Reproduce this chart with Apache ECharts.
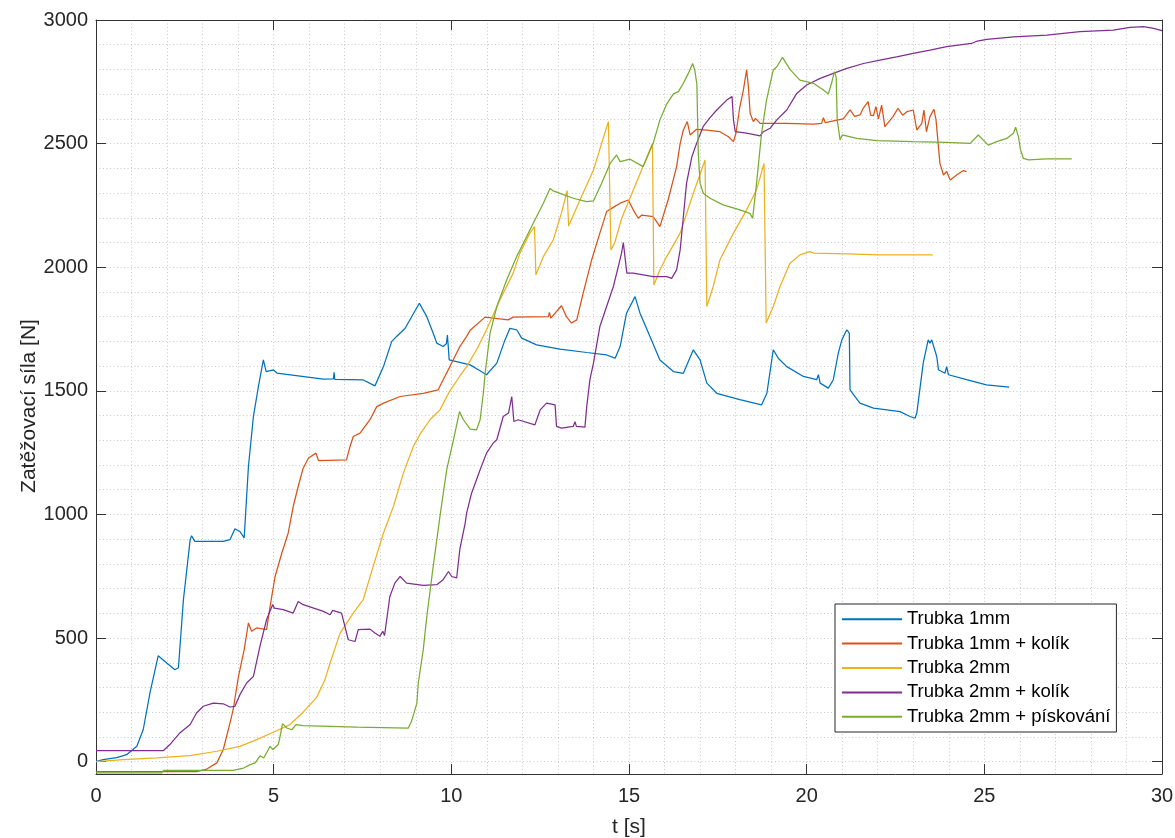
<!DOCTYPE html>
<html><head><meta charset="utf-8">
<script src="https://cdn.jsdelivr.net/npm/echarts@6/dist/echarts.min.js"></script>
<style>html,body{margin:0;padding:0;background:#fff}#c{width:1175px;height:838px}</style>
</head><body><div id="c"></div>
<script>
// ---- data: [t (s), force (N)] ----
const seriesNames = ['Trubka 1mm', 'Trubka 1mm + kolík', 'Trubka 2mm', 'Trubka 2mm + kolík', 'Trubka 2mm + pískování'];

const trubka1mm = [[0,0],[0.2,8],[0.58,16],[0.86,28],[1.15,62],[1.33,130],[1.52,279],[1.75,428],[1.99,399],[2.22,372],[2.32,380],[2.46,655],[2.65,898],[2.69,914],[2.78,891],[3.58,891],[3.77,898],[3.91,942],[4.05,931],[4.17,905],[4.29,1194],[4.43,1396],[4.57,1517],[4.71,1625],[4.79,1578],[4.99,1585],[5.09,1572],[6.4,1547],[6.68,1548],[6.7,1575],[6.72,1546],[7.52,1544],[7.85,1520],[8.09,1598],[8.32,1699],[8.46,1720],[8.7,1753],[9.1,1854],[9.31,1800],[9.49,1733],[9.59,1693],[9.77,1679],[9.86,1690],[9.89,1726],[9.94,1625],[10.53,1605],[10.76,1585],[10.99,1565],[11.28,1612],[11.51,1706],[11.65,1753],[11.84,1747],[11.98,1713],[12.4,1686],[13.06,1669],[13.81,1655],[14.37,1645],[14.61,1632],[14.75,1679],[14.93,1814],[15.17,1881],[15.31,1814],[15.59,1720],[15.87,1625],[16.25,1578],[16.53,1571],[16.81,1666],[17.0,1625],[17.19,1531],[17.47,1490],[18.12,1464],[18.73,1443],[18.88,1490],[19.06,1666],[19.2,1632],[19.44,1598],[19.91,1558],[20.28,1545],[20.33,1565],[20.38,1531],[20.61,1511],[20.75,1545],[20.89,1652],[20.99,1706],[21.13,1747],[21.2,1733],[21.22,1504],[21.36,1477],[21.5,1450],[21.88,1430],[22.63,1416],[22.91,1396],[23.05,1389],[23.1,1410],[23.28,1612],[23.42,1706],[23.47,1693],[23.52,1706],[23.66,1639],[23.71,1585],[23.89,1571],[23.94,1598],[23.99,1565],[24.5,1545],[25.06,1524],[25.7,1515]];

const trubka1mmKolik = [[0,-40],[2.83,-40],[3.12,-30],[3.4,-5],[3.58,48],[3.77,156],[3.86,210],[4.01,345],[4.17,453],[4.29,561],[4.38,527],[4.52,541],[4.8,534],[4.9,628],[5.04,749],[5.23,844],[5.41,925],[5.55,1032],[5.69,1113],[5.83,1187],[5.98,1228],[6.19,1248],[6.26,1218],[7.05,1221],[7.15,1275],[7.24,1315],[7.43,1329],[7.71,1383],[7.9,1436],[8.09,1450],[8.56,1477],[9.21,1490],[9.63,1504],[9.77,1545],[9.96,1598],[10.24,1679],[10.43,1720],[10.53,1745],[10.95,1798],[11.6,1787],[11.74,1798],[12.73,1800],[12.76,1817],[12.8,1794],[13.1,1844],[13.24,1800],[13.38,1774],[13.53,1787],[13.71,1895],[13.95,2030],[14.18,2138],[14.37,2225],[14.51,2238],[14.75,2259],[14.98,2272],[15.12,2232],[15.26,2198],[15.36,2211],[15.68,2205],[15.87,2164],[16.1,2272],[16.34,2407],[16.44,2501],[16.53,2555],[16.64,2589],[16.72,2535],[16.9,2558],[17.19,2555],[17.56,2548],[17.8,2528],[17.94,2508],[18.01,2542],[18.12,2649],[18.22,2717],[18.31,2798],[18.36,2730],[18.41,2622],[18.5,2589],[18.56,2602],[18.69,2582],[19.44,2582],[20.19,2579],[20.42,2582],[20.47,2605],[20.52,2585],[21.03,2600],[21.22,2636],[21.35,2610],[21.5,2616],[21.6,2645],[21.73,2670],[21.8,2615],[21.88,2613],[21.95,2650],[22.02,2600],[22.11,2656],[22.2,2569],[22.43,2609],[22.57,2643],[22.7,2615],[22.82,2629],[23.0,2636],[23.1,2555],[23.24,2582],[23.3,2636],[23.37,2548],[23.47,2609],[23.58,2639],[23.64,2596],[23.75,2420],[23.85,2373],[23.94,2387],[24.04,2353],[24.22,2373],[24.41,2391],[24.5,2387]];

const trubka2mm = [[0,0],[0.77,8],[1.71,15],[2.65,24],[3.4,42],[4.05,62],[4.52,89],[4.99,119],[5.46,150],[5.83,200],[6.21,260],[6.44,330],[6.59,400],[6.87,520],[7.24,601],[7.52,655],[7.8,790],[8.09,925],[8.37,1032],[8.65,1167],[8.93,1275],[9.12,1325],[9.4,1383],[9.68,1423],[9.96,1500],[10.24,1560],[10.43,1598],[10.71,1666],[10.99,1747],[11.37,1868],[11.74,1976],[11.93,2057],[12.21,2138],[12.34,2164],[12.38,1969],[12.59,2043],[12.87,2111],[13.1,2220],[13.26,2310],[13.3,2167],[13.62,2272],[14.0,2393],[14.23,2501],[14.42,2589],[14.49,2070],[14.6,2100],[14.8,2200],[15.2,2340],[15.66,2500],[15.7,1928],[15.87,1989],[16.06,2043],[16.44,2138],[16.81,2299],[17.14,2434],[17.19,1841],[17.37,1922],[17.56,2030],[17.94,2138],[18.31,2232],[18.59,2313],[18.8,2420],[18.86,1774],[19.06,1841],[19.25,1922],[19.53,2016],[19.81,2050],[20.09,2063],[20.2,2057],[21.13,2054],[22.06,2050],[23.55,2050]];

const trubka2mmKolik = [[0,45],[1.9,45],[2.08,69],[2.36,116],[2.65,150],[2.83,197],[3.02,224],[3.3,237],[3.58,234],[3.77,221],[3.91,224],[4.05,271],[4.24,318],[4.43,345],[4.62,470],[4.8,574],[4.97,635],[5.02,621],[5.27,615],[5.55,601],[5.69,648],[5.83,635],[6.4,608],[6.59,594],[6.66,612],[6.91,601],[6.98,561],[7.1,493],[7.29,486],[7.38,534],[7.71,536],[7.85,520],[7.99,507],[8.07,527],[8.12,510],[8.27,668],[8.41,722],[8.56,749],[8.74,722],[9.21,713],[9.59,716],[9.77,736],[9.92,769],[10.01,749],[10.15,743],[10.24,860],[10.39,965],[10.43,1005],[10.57,1086],[10.81,1181],[10.99,1248],[11.18,1289],[11.28,1302],[11.46,1396],[11.61,1410],[11.7,1477],[11.76,1376],[11.88,1383],[12.35,1362],[12.5,1423],[12.68,1450],[12.92,1443],[12.96,1356],[13.1,1349],[13.43,1356],[13.48,1375],[13.52,1356],[13.76,1353],[13.81,1436],[13.9,1545],[14.0,1612],[14.18,1760],[14.37,1841],[14.56,1922],[14.7,2003],[14.79,2057],[14.84,2100],[14.94,1976],[15.12,1976],[15.68,1962],[16.06,1962],[16.2,1955],[16.34,1989],[16.44,2070],[16.53,2205],[16.62,2340],[16.77,2447],[16.9,2500],[17.09,2570],[17.28,2605],[17.47,2636],[17.75,2676],[17.9,2690],[17.94,2596],[17.99,2548],[18.31,2542],[18.69,2531],[18.78,2548],[18.97,2562],[19.16,2596],[19.44,2636],[19.72,2703],[20.0,2737],[20.38,2764],[20.75,2784],[21.13,2804],[21.6,2824],[22.06,2838],[22.53,2851],[23.0,2865],[23.47,2878],[23.94,2892],[24.64,2905],[24.8,2915],[25.07,2922],[25.82,2932],[26.76,2939],[27.69,2953],[28.63,2959],[29.1,2970],[29.48,2973],[29.76,2966],[30.0,2957]];

const trubka2mmPiskovani = [[0,-45],[1.85,-45],[1.9,-35],[3.86,-35],[4.15,-26],[4.34,-12],[4.48,-5],[4.62,24],[4.72,15],[4.9,62],[4.98,49],[5.13,69],[5.18,102],[5.25,154],[5.37,136],[5.51,129],[5.63,150],[5.83,146],[7.34,140],[8.79,136],[8.88,163],[9.03,237],[9.07,318],[9.21,453],[9.31,587],[9.49,790],[9.68,992],[9.87,1181],[10.06,1302],[10.23,1416],[10.34,1383],[10.53,1345],[10.71,1342],[10.81,1383],[10.9,1490],[10.95,1570],[11.09,1733],[11.28,1841],[11.56,1949],[11.84,2043],[12.12,2124],[12.35,2191],[12.59,2259],[12.78,2319],[12.85,2310],[13.06,2299],[13.43,2279],[13.81,2265],[14.0,2268],[14.23,2340],[14.47,2420],[14.65,2454],[14.75,2427],[15.03,2437],[15.4,2407],[15.68,2501],[15.87,2596],[16.06,2660],[16.25,2701],[16.39,2710],[16.53,2744],[16.67,2784],[16.79,2824],[16.85,2798],[16.91,2740],[16.95,2461],[17.0,2340],[17.09,2299],[17.28,2279],[17.65,2252],[18.12,2232],[18.4,2218],[18.48,2198],[18.59,2340],[18.73,2541],[18.87,2676],[19.06,2798],[19.16,2811],[19.32,2849],[19.53,2800],[19.81,2757],[20.19,2744],[20.47,2717],[20.61,2701],[20.7,2744],[20.78,2791],[20.83,2770],[20.86,2596],[20.94,2515],[21.0,2535],[21.41,2521],[21.97,2512],[23.0,2508],[23.94,2505],[24.6,2501],[24.83,2535],[25.0,2510],[25.11,2494],[25.35,2508],[25.63,2521],[25.82,2542],[25.88,2566],[25.96,2528],[26.02,2474],[26.1,2440],[26.24,2434],[26.76,2438],[27.46,2438]];

const xRange = [0, 30];      // t [s]
const xMajorStep = 5;
const yRange = [-50, 3000];  // force [N]
const yMajorStep = 500;
const yMinorStep = 100;
const xName = 't [s]';
const yName = 'Zatěžovací síla [N]';

// ---- chart ----
const allData = [trubka1mm, trubka1mmKolik, trubka2mm, trubka2mmKolik, trubka2mmPiskovani];
const colors = ['#0072BD', '#D95319', '#EDB120', '#7E2F8E', '#77AC30'];
const FONT = '"Liberation Sans", Arial, Helvetica, sans-serif';
const AX = '#333333';
const GRIDC = '#c9c9c9';
const dots = [1, 2.5];
const plain = v => String(v);

const chart = echarts.init(document.getElementById('c'), null, {renderer: 'canvas'});
chart.setOption({
  animation: false,
  backgroundColor: '#ffffff',
  textStyle: {fontFamily: FONT},
  grid: {left: 96, right: 13, top: 20, bottom: 64, containLabel: false, outerBoundsMode: 'none'},
  legend: {
    data: seriesNames,
    orient: 'vertical',
    left: 835, top: 604,
    padding: [3, 6, 3, 6],
    itemGap: 0,
    itemWidth: 60, itemHeight: 12,
    itemStyle: {opacity: 0},
    backgroundColor: '#ffffff',
    borderColor: '#262626', borderWidth: 1,
    textStyle: {fontFamily: FONT, fontSize: 18.5, color: '#000000', lineHeight: 24.4}
  },
  xAxis: [{
    type: 'value', position: 'bottom',
    min: xRange[0], max: xRange[1], interval: xMajorStep,
    name: xName, nameLocation: 'middle', nameGap: 43, nameMoveOverlap: false,
    nameTextStyle: {fontFamily: FONT, fontSize: 21, color: '#262626'},
    axisLine: {show: true, onZero: false, lineStyle: {color: AX, width: 1}},
    axisTick: {show: true, inside: true, length: 10, lineStyle: {color: AX}},
    axisLabel: {fontFamily: FONT, fontSize: 20, color: '#262626', margin: 12, formatter: plain},
    splitLine: {show: true, lineStyle: {color: GRIDC, type: dots, width: 1}},
    minorTick: {show: false, splitNumber: 5},
    minorSplitLine: {show: true, lineStyle: {color: GRIDC, type: dots, width: 1}}
  }, {
    type: 'value', position: 'top',
    min: xRange[0], max: xRange[1], interval: xMajorStep,
    axisLine: {show: true, onZero: false, lineStyle: {color: AX, width: 1}},
    axisTick: {show: true, inside: true, length: 10, lineStyle: {color: AX}},
    axisLabel: {show: false},
    splitLine: {show: false}
  }],
  yAxis: [{
    type: 'value', position: 'left',
    min: yRange[0], max: yRange[1], minInterval: yMajorStep, maxInterval: yMajorStep,
    name: yName, nameLocation: 'middle', nameGap: 56, nameRotate: 90, nameMoveOverlap: false,
    nameTextStyle: {fontFamily: FONT, fontSize: 21, color: '#262626', padding: [0, 18, 0, 0]},
    axisLine: {show: true, onZero: false, lineStyle: {color: AX, width: 1}},
    axisTick: {show: true, inside: true, length: 10, lineStyle: {color: AX}},
    axisLabel: {fontFamily: FONT, fontSize: 20, color: '#262626', margin: 8, showMinLabel: false, formatter: plain},
    splitLine: {show: false}
  }, {
    type: 'value', position: 'right',
    min: yRange[0], max: yRange[1], minInterval: yMajorStep, maxInterval: yMajorStep,
    axisLine: {show: true, onZero: false, lineStyle: {color: AX, width: 1}},
    axisTick: {show: true, inside: true, length: 10, lineStyle: {color: AX}},
    axisLabel: {show: false},
    splitLine: {show: false}
  }, {
    type: 'value', position: 'left',
    min: yRange[0], max: yRange[1], minInterval: yMinorStep, maxInterval: yMinorStep,
    axisLine: {show: false}, axisTick: {show: false}, axisLabel: {show: false},
    splitLine: {show: true, lineStyle: {color: GRIDC, type: dots, width: 1}}
  }],
  series: seriesNames.map((name, i) => ({
    name: name,
    type: 'line',
    xAxisIndex: 0, yAxisIndex: 0,
    data: allData[i],
    symbol: 'none',
    showSymbol: false,
    smooth: false,
    color: colors[i],
    lineStyle: {color: colors[i], width: 1.25},
    z: 2 + i
  }))
});
</script>
</body></html>
